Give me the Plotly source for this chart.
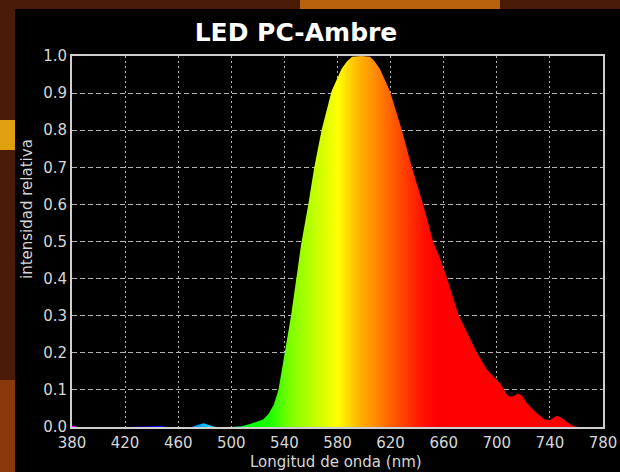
import plotly.graph_objects as go

# ---- data ----
wavelength = [380, 382, 384, 420, 440, 446, 452, 470, 474, 479, 484, 488, 500, 508, 514,
              520, 524, 528, 532, 535.5, 538, 540.5, 545, 549, 552.5, 558, 562.5, 568,
              575.5, 583, 587, 591, 598, 604.5, 608, 612, 619.5, 628.5, 636, 644.5, 652,
              657, 662, 671, 678, 685, 692.5, 702.5, 708.5, 712, 716, 719, 722.5, 729,
              736, 740, 745, 749, 754, 758, 762, 780]
intensity = [0.004, 0.003, 0.0, 0.0, 0.001, 0.003, 0.0, 0.0, 0.005, 0.010, 0.005, 0.0, 0.0,
             0.002, 0.008, 0.014, 0.02, 0.035, 0.06, 0.10, 0.15, 0.20, 0.30, 0.40, 0.49,
             0.60, 0.70, 0.80, 0.905, 0.965, 0.985, 0.998, 1.0, 0.998, 0.985, 0.965, 0.905,
             0.80, 0.70, 0.60, 0.50, 0.456, 0.406, 0.303, 0.25, 0.20, 0.155, 0.118, 0.083,
             0.082, 0.09, 0.085, 0.065, 0.041, 0.02, 0.018, 0.03, 0.025, 0.01, 0.002, 0.0, 0.0]

x_ticks = [380, 420, 460, 500, 540, 580, 620, 660, 700, 740, 780]
y_ticks = [0.0, 0.1, 0.2, 0.3, 0.4, 0.5, 0.6, 0.7, 0.8, 0.9, 1.0]

# spectral colours (wavelength, colour)
spec_wl = [380, 420, 445, 480, 500, 515, 530, 545, 560, 580, 597, 607, 625, 645, 655, 780]
spec_col = ["#ff00ff", "#6000ff", "#0000ff", "#00c0ff", "#00ff80", "#00ff00", "#20ff00",
            "#80ff00", "#b8ff00", "#ffff00", "#ffb000", "#ff9000", "#ff5000", "#ff1000",
            "#ff0000", "#ff0000"]

colorscale = [[(w - 380) / 400, c] for w, c in zip(spec_wl, spec_col)]

fig = go.Figure()
fig.add_trace(go.Scatter(
    x=wavelength, y=intensity, mode="lines",
    line=dict(width=0.5, color="rgba(0,0,0,0)"),
    fill="tozeroy",
    fillgradient=dict(type="horizontal", colorscale=colorscale, start=380, stop=780),
    hoverinfo="skip", showlegend=False,
))

W, H = 620, 472
L, R, T, B = 72, 17, 56, 45
pw, ph = W - L - R, H - T - B

def px_x(p):
    return (p - L) / pw

def px_y(p):
    return (H - B - p) / ph

shapes = [
    # photo-like surroundings
    dict(type="rect", xref="paper", yref="paper", layer="below",
         x0=px_x(300), x1=px_x(500), y0=px_y(10), y1=px_y(-5),
         fillcolor="#b8620e", line_width=0),
    dict(type="rect", xref="paper", yref="paper", layer="below",
         x0=px_x(-5), x1=px_x(16), y0=px_y(150), y1=px_y(120),
         fillcolor="#e0a010", line_width=0),
    dict(type="rect", xref="paper", yref="paper", layer="below",
         x0=px_x(-5), x1=px_x(16), y0=px_y(480), y1=px_y(380),
         fillcolor="#8a380c", line_width=0),
    # black panel
    dict(type="rect", xref="paper", yref="paper", layer="below",
         x0=px_x(15), x1=px_x(625), y0=px_y(480), y1=px_y(9),
         fillcolor="black", line_width=0),
]

fig.update_layout(
    width=W, height=H,
    margin=dict(l=L, r=R, t=T, b=B, autoexpand=False),
    paper_bgcolor="#4a1c08",
    plot_bgcolor="black",
    shapes=shapes,
    title=dict(text="<b>LED PC-Ambre</b>", x=296 / W, xanchor="center",
               y=1 - 32 / H, yanchor="middle",
               font=dict(family="DejaVu Sans", size=25, color="white")),
    xaxis=dict(range=[380, 780], tickvals=x_ticks, ticktext=[str(v) for v in x_ticks],
               showgrid=True, gridcolor="#b4b4b4", gridwidth=1, griddash="2px,3px",
               showline=True, linecolor="#cfcfcf", linewidth=2, mirror=True,
               zeroline=False, ticks="", ticklabelstandoff=1,
               tickfont=dict(family="DejaVu Sans", size=15, color="#d6d6d6")),
    yaxis=dict(range=[0, 1.0], tickvals=y_ticks, ticktext=[f"{v:.1f}" for v in y_ticks],
               showgrid=True, gridcolor="#b4b4b4", gridwidth=1, griddash="5px,3px",
               showline=True, linecolor="#cfcfcf", linewidth=2, mirror=True,
               zeroline=False, ticks="",
               tickfont=dict(family="DejaVu Sans", size=15, color="#d6d6d6")),
    annotations=[
        dict(text="intensidad relativa", textangle=-90,
             xref="paper", yref="paper", x=px_x(27), y=px_y(209),
             xanchor="center", yanchor="middle", showarrow=False,
             font=dict(family="DejaVu Sans", size=15, color="#d6d6d6")),
        dict(text="Longitud de onda (nm)",
             xref="paper", yref="paper", x=px_x(336), y=px_y(462),
             xanchor="center", yanchor="middle", showarrow=False,
             font=dict(family="DejaVu Sans", size=15, color="#d6d6d6")),
    ],
)

fig.write_html("out.html")
